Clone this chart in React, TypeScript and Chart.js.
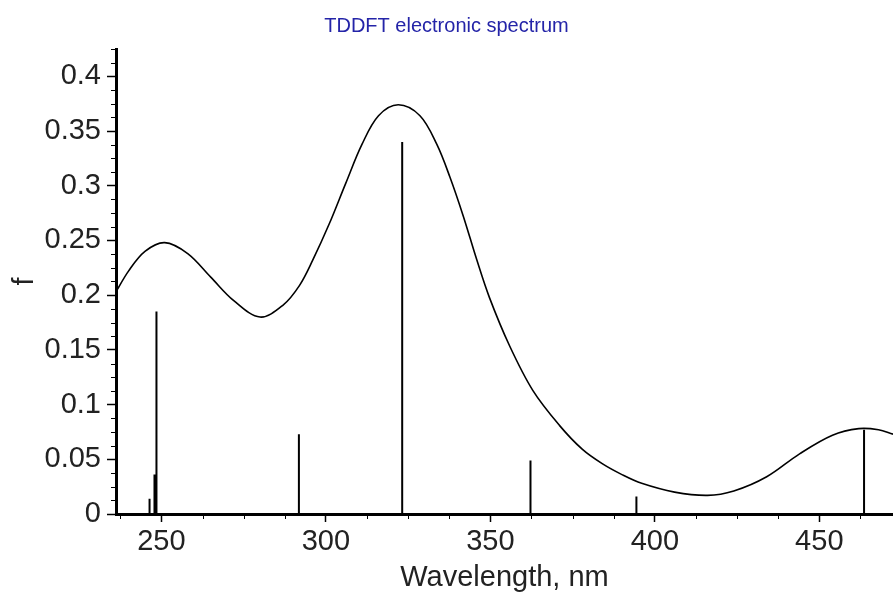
import React, { useEffect, useRef } from 'react';
import { Chart, registerables } from 'chart.js';

Chart.register(...registerables);

// Broadened spectrum (wavelength in nm, oscillator strength f)
const curveWavelengths = [236.2, 240, 245, 251, 258, 265, 272, 280, 287, 292, 296, 301, 306, 311, 316, 322, 328.6, 333.7, 337.7, 341.8, 345.8, 349.7, 355.8, 362.9, 371, 378, 384, 390, 396, 406, 416, 424, 434, 444, 454, 462, 468, 472.4];
const curveStrengths = [0.203, 0.222, 0.240, 0.248, 0.238, 0.2165, 0.195, 0.180, 0.191, 0.209, 0.232, 0.265, 0.302, 0.338, 0.364, 0.374, 0.364, 0.338, 0.308, 0.272, 0.233, 0.198, 0.154, 0.113, 0.081, 0.059, 0.046, 0.036, 0.028, 0.020, 0.017, 0.021, 0.034, 0.055, 0.072, 0.078, 0.077, 0.073];

// Individual transitions (sticks)
const stickWavelengths = [246.4, 247.9, 248.5, 291.8, 323.2, 362.2, 394.4, 463.6];
const stickStrengths = [0.014, 0.036, 0.185, 0.073, 0.340, 0.049, 0.016, 0.077];

// Axis ticks
const xTickLabels = [250, 300, 350, 400, 450];
const yTickLabels = [0, 0.05, 0.1, 0.15, 0.2, 0.25, 0.3, 0.35, 0.4];
const X_MIN = 236.2;
const X_MAX = 472.4;
const Y_MIN = 0;
const Y_MAX = 0.425;
const X_MINOR_STEP = 12.5;
const Y_MINOR_STEP = 0.0125;

const FONT_FAMILY = '"Liberation Sans", Arial, sans-serif';

const minorTicksPlugin = {
  id: 'minorTicks',
  afterDraw(chart: any) {
    const { ctx, chartArea } = chart;
    const xs = chart.scales.x;
    const ys = chart.scales.y;
    ctx.save();
    ctx.strokeStyle = '#000';
    ctx.lineWidth = 1;
    ctx.beginPath();
    const xStart = Math.ceil(X_MIN / X_MINOR_STEP) * X_MINOR_STEP;
    for (let i = 0; ; i++) {
      const v = xStart + i * X_MINOR_STEP;
      if (v > X_MAX) break;
      if (Math.abs(v / 50 - Math.round(v / 50)) < 1e-6) continue;
      const px = Math.round(xs.getPixelForValue(v)) + 0.5;
      ctx.moveTo(px, chartArea.bottom);
      ctx.lineTo(px, chartArea.bottom + 5);
    }
    for (let i = 0; ; i++) {
      const v = Y_MIN + i * Y_MINOR_STEP;
      if (v > Y_MAX + 1e-9) break;
      if (i % 4 === 0) continue;
      const py = Math.round(ys.getPixelForValue(v)) + 0.5;
      ctx.moveTo(chartArea.left - 5, py);
      ctx.lineTo(chartArea.left, py);
    }
    ctx.stroke();
    ctx.restore();
  },
};

export default function App() {
  const canvasRef = useRef<HTMLCanvasElement | null>(null);

  useEffect(() => {
    if (!canvasRef.current) return;
    const curveData = curveWavelengths.map((w, i) => ({ x: w, y: curveStrengths[i] }));
    const stickData: { x: number; y: number | null }[] = [];
    stickWavelengths.forEach((w, i) => {
      stickData.push({ x: w, y: 0 });
      stickData.push({ x: w, y: stickStrengths[i] });
      stickData.push({ x: w, y: null });
    });

    const chart = new Chart(canvasRef.current, {
      type: 'line',
      data: {
        datasets: [
          {
            data: curveData,
            borderColor: '#000',
            borderWidth: 1.6,
            pointRadius: 0,
            tension: 0.35,
            fill: false,
          },
          {
            data: stickData,
            borderColor: '#000',
            borderWidth: 2,
            pointRadius: 0,
            tension: 0,
            spanGaps: false,
            fill: false,
          },
        ],
      } as any,
      options: {
        animation: false,
        responsive: false,
        maintainAspectRatio: false,
        events: [],
        layout: { padding: 0 },
        plugins: {
          legend: { display: false },
          tooltip: { enabled: false },
          title: {
            display: true,
            text: 'TDDFT electronic spectrum',
            color: '#2424a8',
            font: { family: FONT_FAMILY, size: 20, weight: 'normal' },
            padding: { top: 14, bottom: 11 },
          },
        },
        scales: {
          x: {
            type: 'linear',
            position: 'bottom',
            min: X_MIN,
            max: X_MAX,
            afterBuildTicks: (s: any) => {
              s.ticks = xTickLabels.map((v) => ({ value: v }));
            },
            afterFit: (s: any) => {
              s.height = 85;
            },
            grid: {
              drawOnChartArea: false,
              drawTicks: true,
              tickLength: 8,
              tickColor: '#000',
              tickWidth: 1.5,
            },
            border: { display: true, color: '#000', width: 3 },
            ticks: {
              color: '#222',
              font: { family: FONT_FAMILY, size: 29 },
              padding: 3,
              maxRotation: 0,
              autoSkip: false,
              callback: (v: any) => String(v),
            },
            title: {
              display: true,
              text: 'Wavelength, nm',
              color: '#222',
              font: { family: FONT_FAMILY, size: 29 },
              padding: { top: 0, bottom: 4 },
            },
          },
          y: {
            type: 'linear',
            min: Y_MIN,
            max: Y_MAX,
            afterBuildTicks: (s: any) => {
              s.ticks = yTickLabels.map((v) => ({ value: v }));
            },
            afterFit: (s: any) => {
              s.width = 116;
            },
            grid: {
              drawOnChartArea: false,
              drawTicks: true,
              tickLength: 9,
              tickColor: '#000',
              tickWidth: 1.5,
            },
            border: { display: true, color: '#000', width: 3 },
            ticks: {
              color: '#222',
              font: { family: FONT_FAMILY, size: 29 },
              padding: 6,
              autoSkip: false,
              callback: (v: any) => String(v),
            },
            title: {
              display: true,
              text: 'f',
              color: '#222',
              font: { family: FONT_FAMILY, size: 29 },
              padding: { top: 8, bottom: 0 },
            },
          },
        },
      } as any,
      plugins: [minorTicksPlugin],
    });

    return () => chart.destroy();
  }, []);

  return (
    <div style={{ position: 'absolute', left: 0, top: 0, width: 893, height: 599, background: '#fff' }}>
      <canvas ref={canvasRef} width={893} height={599} style={{ display: 'block' }} />
    </div>
  );
}
